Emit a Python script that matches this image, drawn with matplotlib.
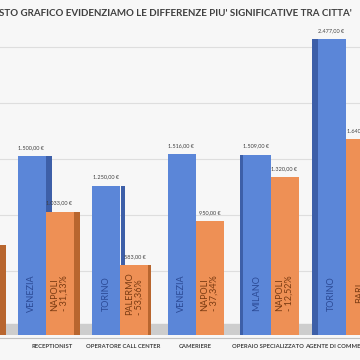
import matplotlib
matplotlib.use('Agg')
import matplotlib.pyplot as plt

# data (first group is cut off on the left)
categories = ['', 'RECEPTIONIST', 'OPERATORE CALL CENTER', 'CAMERIERE',
              'OPERAIO SPECIALIZZATO', 'AGENTE DI COMMERCIO']
top_city = [None, 'VENEZIA', 'TORINO', 'VENEZIA', 'MILANO', 'TORINO']
top_salary = [None, 1500, 1250, 1516, 1509, 2477]
low_city = ['', 'NAPOLI', 'PALERMO', 'NAPOLI', 'NAPOLI', 'BARI']
low_salary = [750, 1033, 583, 950, 1320, 1640]
low_diff = ['', '- 31,13%', '- 53,36%', '- 37,34%', '- 12,52%', '']
grid_vals = [500, 1000, 1500, 2000, 2500]

title = "STO GRAFICO EVIDENZIAMO LE DIFFERENZE PIU' SIGNIFICATIVE TRA CITTA'"

plt.rcParams['font.family'] = ['Lato', 'DejaVu Sans']

def euro(v):
    s = f"{v:,.2f}".replace(',', 'X').replace('.', ',').replace('X', '.')
    return s + ' €'

W = 360.0
fig = plt.figure(figsize=(3.6, 3.6), dpi=100)
fig.patch.set_facecolor('#f7f7f7')
# axes from pixel y 30 to 335
ax = fig.add_axes([0, 25 / W, 1, 305 / W])
ax.set_facecolor('#f7f7f7')
px_per_x = 75.0
x0 = 1 - 45.5 / px_per_x
ax.set_xlim(x0, x0 + W / px_per_x)
ax.set_ylim(0, 305 / 0.1195)
for s in ax.spines.values():
    s.set_visible(False)
ax.set_xticks([])
ax.set_yticks([])
# gridlines sit on the back wall, so they look a bit compressed
for g in grid_vals:
    ax.axhline(g * 0.935 + 70, color='#dedede', lw=0.8, zorder=0)

# floor
ax.axhspan(0, 95, color='#cdcdcd', zorder=1)

bw = 28 / px_per_x
blue, blue_side = '#5b86d8', '#3d5fa8'
orange, orange_side = '#ee9055', '#b8662f'
center_px = 200.0

def side_width(xc):
    px = (xc - x0) * px_per_x
    d = px - center_px
    return min(abs(d) * 0.045, 7) / px_per_x, (1 if d < 0 else -1)

def draw_bar(xc, v, front, side):
    sw, sgn = side_width(xc)
    ax.bar(xc + sgn * (bw / 2 + sw / 2), v, width=sw, color=side, zorder=2)
    ax.bar(xc, v, width=bw, color=front, zorder=3)

for i in range(len(categories)):
    xb = i - bw / 2
    xo = i + bw / 2
    if top_salary[i] is not None:
        draw_bar(xb, top_salary[i], blue, blue_side)
        ax.text(xb, top_salary[i] + 50, euro(top_salary[i]), ha='center',
                va='bottom', fontsize=4, color='#404040', zorder=5)
        ax.text(xb, 350, top_city[i], rotation=90, ha='center', va='center',
                fontsize=6.5, color='#2b4a96', zorder=5)
    draw_bar(xo, low_salary[i], orange, orange_side)
    ax.text(xo, low_salary[i] + 50, euro(low_salary[i]), ha='center',
            va='bottom', fontsize=4, color='#404040', zorder=5)
    lbl = low_city[i] + ('\n' + low_diff[i] if low_diff[i] else '')
    ax.text(xo, 350, lbl, rotation=90, ha='center', va='center',
            multialignment='left', fontsize=6.5, color='#7a3b12',
            linespacing=1.0, zorder=5)
    lx = x0 + (center_px + ((i - x0) * px_per_x - center_px) * 0.96) / px_per_x
    fig.text((lx - x0) * px_per_x / W, 1 - 347 / W, categories[i],
             ha='center', va='center', fontsize=4.2, fontweight='bold',
             color='#404040')

fig.add_artist(plt.Line2D([0, 1], [1 - 338 / W, 1 - 338 / W],
                          color='#c0c0c0', lw=0.8))
fig.text(0.488, 1 - 13 / W, title, ha='center', va='center', fontsize=7.0,
         fontweight='bold', color='#404040')

fig.savefig('out.png', dpi=100, facecolor=fig.get_facecolor())
